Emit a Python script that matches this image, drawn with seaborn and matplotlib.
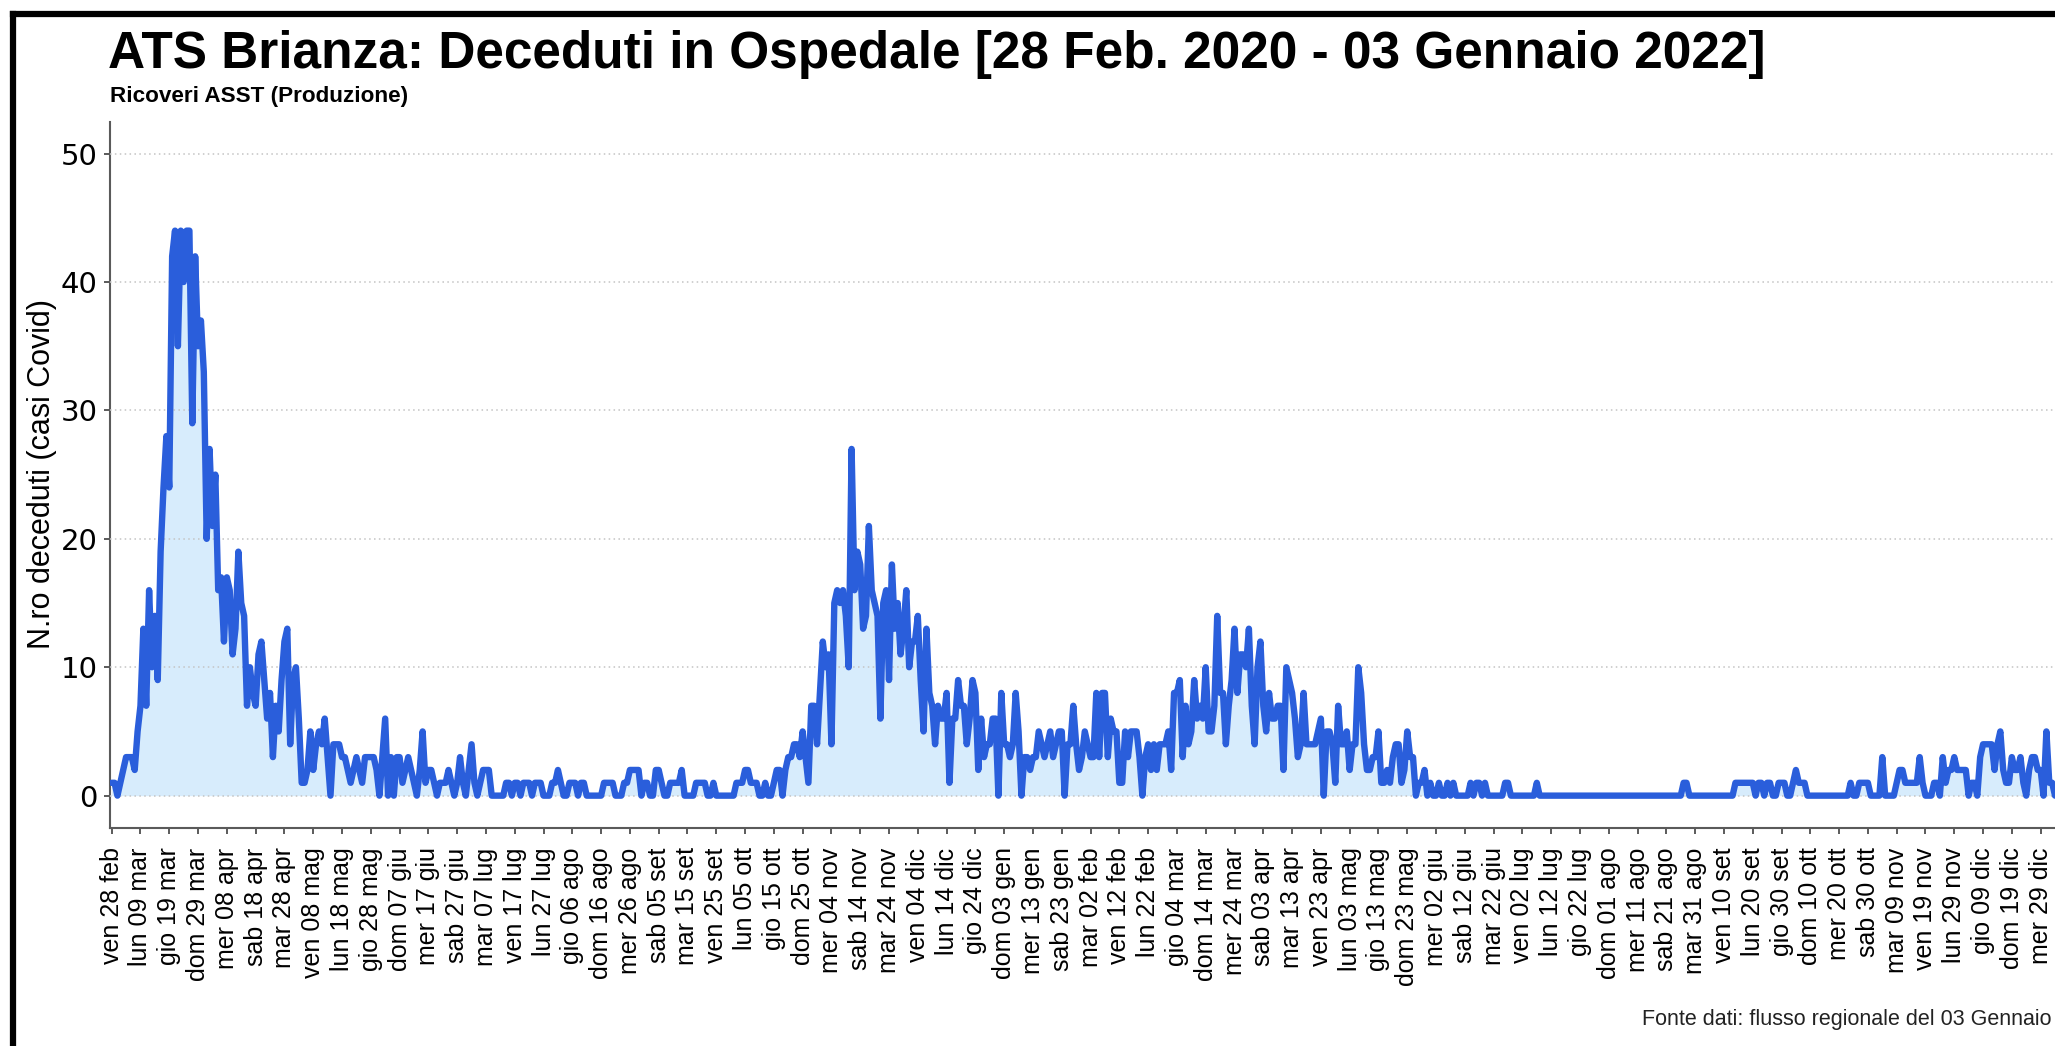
import matplotlib
matplotlib.use("Agg")
import matplotlib.pyplot as plt
from matplotlib.lines import Line2D
import pandas as pd
import seaborn as sns

W, H = 2055, 1046
START = "2020-02-28"

# deceduti giornalieri (un valore per giorno)
feb_2020 = [1, 1]
mar_2020 = [0, 1, 2, 3, 3, 3, 2, 5, 7, 13, 7, 16, 10, 14, 9, 19, 24, 28, 24, 42,
            44, 35, 44, 40, 44, 44, 29, 42, 35, 37, 33]
apr_2020 = [20, 27, 21, 25, 16, 17, 12, 17, 16, 11, 13, 19, 15, 14, 7, 10, 8, 7, 11, 12,
            9, 6, 8, 3, 7, 5, 9, 12, 13, 4]
may_2020 = [9, 10, 6, 1, 1, 2, 5, 2, 4, 5, 4, 6, 3, 0, 4, 4, 4, 3, 3, 2,
            1, 2, 3, 2, 1, 3, 3, 3, 3, 2, 0]
jun_2020 = [3, 6, 0, 3, 0, 3, 3, 1, 2, 3, 2, 1, 0, 2, 5, 1, 2, 2, 1, 0,
            1, 1, 1, 2, 1, 0, 1, 3, 1, 0]
jul_2020 = [2, 4, 1, 0, 1, 2, 2, 2, 0, 0, 0, 0, 0, 1, 1, 0, 1, 1, 0, 1,
            1, 1, 0, 1, 1, 1, 0, 0, 0, 1, 1]
aug_2020 = [2, 1, 0, 0, 1, 1, 1, 0, 1, 1, 0, 0, 0, 0, 0, 0, 1, 1, 1, 1,
            0, 0, 0, 1, 1, 2, 2, 2, 2, 0, 1]
sep_2020 = [1, 0, 0, 2, 2, 1, 0, 0, 1, 1, 1, 1, 2, 0, 0, 0, 0, 1, 1, 1,
            1, 0, 0, 1, 0, 0, 0, 0, 0, 0]
oct_2020 = [0, 1, 1, 1, 2, 2, 1, 1, 1, 0, 0, 1, 0, 0, 1, 2, 2, 0, 2, 3,
            3, 4, 4, 3, 5, 3, 1, 7, 7, 4, 8]
nov_2020 = [12, 10, 11, 4, 15, 16, 15, 16, 14, 10, 27, 16, 19, 18, 13, 14, 21, 16, 15, 14,
            6, 15, 16, 9, 18, 13, 15, 11, 13, 16]
dec_2020 = [10, 12, 12, 14, 9, 5, 13, 8, 7, 4, 7, 6, 6, 8, 1, 6, 6, 9, 7, 7,
            4, 6, 9, 8, 2, 6, 3, 4, 4, 6, 6]
jan_2021 = [0, 8, 4, 4, 3, 4, 8, 5, 0, 3, 3, 2, 3, 3, 5, 4, 3, 4, 5, 3,
            4, 5, 5, 0, 4, 4, 7, 4, 2, 3, 5]
feb_2021 = [4, 3, 3, 8, 3, 8, 8, 3, 6, 5, 5, 1, 1, 5, 3, 5, 5, 5, 3, 0,
            3, 4, 2, 4, 2, 4, 4, 4]
mar_2021 = [5, 2, 8, 8, 9, 3, 7, 4, 5, 9, 6, 7, 6, 10, 5, 5, 7, 14, 8, 8,
            4, 7, 9, 13, 8, 11, 11, 10, 13, 7, 4]
apr_2021 = [10, 12, 7, 5, 8, 6, 6, 7, 7, 2, 10, 9, 8, 6, 3, 4, 8, 4, 4, 4,
            4, 5, 6, 0, 5, 5, 4, 1, 7, 4]
may_2021 = [4, 5, 2, 4, 4, 10, 8, 4, 2, 2, 3, 3, 5, 1, 1, 2, 1, 3, 4, 4,
            1, 2, 5, 3, 3, 0, 1, 1, 2, 0, 1]
jun_2021 = [0, 0, 1, 0, 0, 1, 0, 1, 0, 0, 0, 0, 0, 1, 0, 1, 1, 0, 1, 0,
            0, 0, 0, 0, 0, 1, 1, 0, 0, 0]
jul_2021 = [0, 0, 0, 0, 0, 0, 1, 0, 0, 0, 0, 0, 0, 0, 0, 0, 0, 0, 0, 0,
            0, 0, 0, 0, 0, 0, 0, 0, 0, 0, 0]
aug_2021 = [0, 0, 0, 0, 0, 0, 0, 0, 0, 0, 0, 0, 0, 0, 0, 0, 0, 0, 0, 0,
            0, 0, 0, 0, 0, 0, 1, 1, 0, 0, 0]
sep_2021 = [0, 0, 0, 0, 0, 0, 0, 0, 0, 0, 0, 0, 0, 1, 1, 1, 1, 1, 1, 1,
            0, 1, 1, 0, 1, 1, 0, 0, 1, 1]
oct_2021 = [1, 0, 0, 1, 2, 1, 1, 1, 0, 0, 0, 0, 0, 0, 0, 0, 0, 0, 0, 0,
            0, 0, 0, 1, 0, 0, 1, 1, 1, 1, 0]
nov_2021 = [0, 0, 0, 3, 0, 0, 0, 0, 1, 2, 2, 1, 1, 1, 1, 1, 3, 1, 0, 0,
            0, 1, 1, 0, 3, 1, 2, 2, 3, 2]
dec_2021 = [2, 2, 2, 0, 1, 1, 0, 3, 4, 4, 4, 4, 2, 4, 5, 2, 1, 1, 3, 2,
            2, 3, 1, 0, 2, 3, 3, 2, 2, 0, 5]
jan_2022 = [1, 1, 0]

values = (feb_2020 + mar_2020 + apr_2020 + may_2020 + jun_2020 + jul_2020 + aug_2020
          + sep_2020 + oct_2020 + nov_2020 + dec_2020 + jan_2021 + feb_2021 + mar_2021
          + apr_2021 + may_2021 + jun_2021 + jul_2021 + aug_2021 + sep_2021 + oct_2021
          + nov_2021 + dec_2021 + jan_2022)

df = pd.DataFrame({
    "data": pd.date_range(START, periods=len(values), freq="D"),
    "deceduti": values,
})

# etichette asse x: una ogni 10 giorni
GIORNI = ["lun", "mar", "mer", "gio", "ven", "sab", "dom"]
MESI = ["gen", "feb", "mar", "apr", "mag", "giu", "lug", "ago", "set", "ott", "nov", "dic"]
tick_dates = pd.date_range(START, "2021-12-29", freq="10D")
tick_labels = [f"{GIORNI[d.weekday()]} {d.day:02d} {MESI[d.month - 1]}" for d in tick_dates]
y_ticks = [0, 10, 20, 30, 40, 50]

LINE = "#2a5edb"
FILL = "#d7ecfc"
AXIS = "#5a5a5a"

sns.set_style("white")
plt.rcParams["font.family"] = ["Liberation Sans", "DejaVu Sans"]
plt.rcParams["text.color"] = "black"

fig = plt.figure(figsize=(W / 100, H / 100), dpi=100)
ax = fig.add_axes([110 / W, 218 / H, 2017 / W, 706.5 / H])

ax.fill_between(df["data"], df["deceduti"], color=FILL, linewidth=0, zorder=1)
sns.lineplot(data=df, x="data", y="deceduti", color=LINE, linewidth=4.6,
             solid_joinstyle="round", solid_capstyle="round", ax=ax, zorder=3)

ax.set_xlim(df["data"].iloc[0] - pd.Timedelta(hours=14),
            df["data"].iloc[0] + pd.Timedelta(days=700))
ax.set_ylim(-2.52, 52.5)

ax.set_yticks(y_ticks)
ax.set_yticklabels([str(v) for v in y_ticks], fontfamily="DejaVu Sans", fontsize=21)
ax.set_xticks(tick_dates)
ax.set_xticklabels(tick_labels, rotation=90, fontsize=18)
ax.tick_params(axis="y", length=4, width=1.4, color=AXIS, labelcolor="black", pad=5, left=True)
ax.tick_params(axis="x", length=4, width=1.4, color=AXIS, labelcolor="black", pad=10, bottom=True)

ax.grid(axis="y", linestyle=(0, (1, 2.2)), color="#c4c4c4", linewidth=1.1, zorder=2)
ax.grid(axis="x", visible=False)
ax.set_axisbelow(False)

for side in ["top", "right"]:
    ax.spines[side].set_visible(False)
for side in ["left", "bottom"]:
    ax.spines[side].set_color(AXIS)
    ax.spines[side].set_linewidth(1.5)

ax.set_xlabel("")
ax.set_ylabel("")

# testi
narrow = ["Liberation Sans Narrow", "Liberation Sans", "DejaVu Sans"]
fig.text(108 / W, 1 - 68 / H, "ATS Brianza: Deceduti in Ospedale [28 Feb. 2020 - 03 Gennaio 2022]",
         fontsize=37, fontweight="bold", family=narrow, va="baseline", color="black")
fig.text(110 / W, 1 - 102 / H, "Ricoveri ASST (Produzione)",
         fontsize=16.2, fontweight="bold", family=narrow, va="baseline", color="black")
fig.text(42 / W, 1 - 474 / H, "N.ro deceduti (casi Covid)", rotation=90,
         ha="center", va="center", fontsize=22, color="black")
fig.text(2051 / W, 1 - 1020 / H, "Fonte dati: flusso regionale del 03 Gennaio",
         fontsize=15.5, ha="right", va="center", color="#222222")

# cornice nera (lati sinistro e superiore)
fig.add_artist(Line2D([13 / W, 13 / W], [0, 1 - 14 / H], transform=fig.transFigure,
                      color="black", linewidth=4.5, solid_capstyle="projecting"))
fig.add_artist(Line2D([13 / W, 1], [1 - 14 / H, 1 - 14 / H], transform=fig.transFigure,
                      color="black", linewidth=4.5, solid_capstyle="projecting"))

fig.savefig("out.png", dpi=100)
